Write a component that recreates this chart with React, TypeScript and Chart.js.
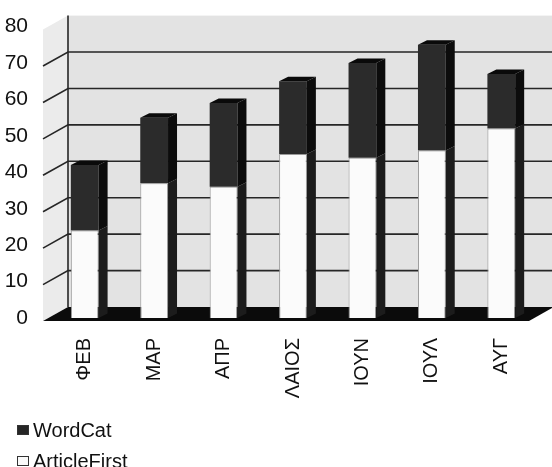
import React, { useEffect, useRef } from 'react';
import { Chart, registerables } from 'chart.js';

Chart.register(...registerables);

const categories = ['ΦΕΒ', 'ΜΑΡ', 'ΑΠΡ', 'ΛΑΙΟΣ', 'ΙΟΥΝ', 'ΙΟΥΛ', 'ΑΥΓ'];
const articleFirst = [24, 37, 36, 45, 44, 46, 52];
const wordCat = [18, 18, 23, 20, 26, 29, 15];
const yMin = 0;
const yMax = 80;
const yStep = 10;
const legendItems = ['WordCat', 'ArticleFirst'];

const FONT = '"Liberation Sans", Arial, Helvetica, sans-serif';
const FRONT = { dx: -7, dy: 3 };
const BACK = { dx: 18, dy: -11 };
const BAR_DEPTH = { dx: 9, dy: -4.5 };

const wall3d = {
  id: 'wall3d',
  beforeDatasetsDraw(chart: any) {
    const { ctx, chartArea: ca, scales } = chart;
    const y = scales.y;
    const yb = (v: number) => y.getPixelForValue(v) + BACK.dy;
    const yf = (v: number) => y.getPixelForValue(v) + FRONT.dy;
    const fx = ca.left + FRONT.dx;
    const fxr = ca.right + FRONT.dx;
    const bx = ca.left + BACK.dx;
    const bxr = ca.right + BACK.dx;
    const top = y.max;
    ctx.save();
    ctx.fillStyle = '#e3e3e3';
    ctx.fillRect(bx, yb(top), bxr - bx, yb(0) - yb(top));
    ctx.fillStyle = '#ebebeb';
    ctx.beginPath();
    ctx.moveTo(fx, yf(top));
    ctx.lineTo(bx, yb(top));
    ctx.lineTo(bx, yb(0));
    ctx.lineTo(fx, yf(0));
    ctx.closePath();
    ctx.fill();
    ctx.strokeStyle = '#262626';
    ctx.lineWidth = 1.6;
    const vals = y.ticks.map((t: any) => t.value).filter((v: number) => v > 0 && v < top);
    for (const v of vals) {
      ctx.beginPath();
      ctx.moveTo(fx, yf(v));
      ctx.lineTo(bx, yb(v));
      ctx.lineTo(bxr, yb(v));
      ctx.stroke();
    }
    ctx.beginPath();
    ctx.moveTo(bx, yb(top));
    ctx.lineTo(bx, yb(0));
    ctx.stroke();
    ctx.fillStyle = '#0b0b0b';
    ctx.beginPath();
    ctx.moveTo(fx, yf(0));
    ctx.lineTo(fxr, yf(0));
    ctx.lineTo(bxr, yb(0));
    ctx.lineTo(bx, yb(0));
    ctx.closePath();
    ctx.fill();
    ctx.restore();
  },
  afterDatasetsDraw(chart: any) {
    const { ctx } = chart;
    const n = chart.data.datasets.length;
    ctx.save();
    for (let d = 0; d < n; d++) {
      const meta = chart.getDatasetMeta(d);
      meta.data.forEach((bar: any) => {
        const { x, y, base, width } = bar.getProps(['x', 'y', 'base', 'width'], true);
        const xl = x - width / 2;
        const xr = x + width / 2;
        ctx.fillStyle = d === 0 ? '#1c1c1c' : '#0c0c0c';
        ctx.beginPath();
        ctx.moveTo(xr, y);
        ctx.lineTo(xr + BAR_DEPTH.dx, y + BAR_DEPTH.dy);
        ctx.lineTo(xr + BAR_DEPTH.dx, base + BAR_DEPTH.dy);
        ctx.lineTo(xr, base);
        ctx.closePath();
        ctx.fill();
        if (d === n - 1) {
          ctx.fillStyle = '#0a0a0a';
          ctx.beginPath();
          ctx.moveTo(xl, y);
          ctx.lineTo(xl + BAR_DEPTH.dx, y + BAR_DEPTH.dy);
          ctx.lineTo(xr + BAR_DEPTH.dx, y + BAR_DEPTH.dy);
          ctx.lineTo(xr, y);
          ctx.closePath();
          ctx.fill();
        }
      });
    }
    ctx.restore();
  },
};

export default function App() {
  const ref = useRef<HTMLCanvasElement | null>(null);

  useEffect(() => {
    if (!ref.current) return;
    const chart = new Chart(ref.current, {
      type: 'bar',
      data: {
        labels: categories,
        datasets: [
          {
            label: legendItems[1],
            data: articleFirst,
            backgroundColor: '#fbfbfb',
            borderColor: '#9a9a9a',
            borderWidth: 1,
            barPercentage: 0.4,
            categoryPercentage: 1,
          },
          {
            label: legendItems[0],
            data: wordCat,
            backgroundColor: '#2b2b2b',
            borderWidth: 0,
            barPercentage: 0.4,
            categoryPercentage: 1,
          },
        ],
      },
      options: {
        responsive: false,
        animation: false,
        devicePixelRatio: 1,
        layout: { padding: { top: 24, right: 16, bottom: 59, left: 0 } },
        plugins: {
          legend: { display: false },
          tooltip: { enabled: false },
        },
        scales: {
          x: {
            stacked: true,
            grid: { display: false },
            border: { display: false },
            ticks: {
              minRotation: 90,
              maxRotation: 90,
              padding: 12,
              color: '#111',
              font: { family: FONT, size: 20 },
            },
            afterFit: (s: any) => {
              s.height = 90;
            },
          },
          y: {
            stacked: true,
            min: yMin,
            max: yMax,
            grid: { display: false },
            border: { display: false },
            ticks: {
              stepSize: yStep,
              padding: 14,
              color: '#111',
              font: { family: FONT, size: 21 },
            },
            afterFit: (s: any) => {
              s.width = 50;
            },
          },
        },
      },
      plugins: [wall3d],
    });
    return () => chart.destroy();
  }, []);

  const rowStyle: React.CSSProperties = {
    position: 'absolute',
    left: 17,
    display: 'flex',
    alignItems: 'center',
    height: 20,
    font: `20px ${FONT}`,
    color: '#111',
    whiteSpace: 'nowrap',
  };
  const box = (bg: string): React.CSSProperties => ({
    display: 'inline-block',
    width: 12,
    height: 10,
    background: bg,
    border: '1px solid #333',
    boxSizing: 'border-box',
    marginRight: 4,
  });

  return (
    <div style={{ position: 'absolute', left: 0, top: 0, width: 552, height: 467, background: '#fff', overflow: 'hidden' }}>
      <canvas ref={ref} width={552} height={467} style={{ display: 'block' }} />
      <div style={{ ...rowStyle, top: 420 }}>
        <span style={box('#262626')} />
        {legendItems[0]}
      </div>
      <div style={{ ...rowStyle, top: 451 }}>
        <span style={box('#fafafa')} />
        {legendItems[1]}
      </div>
    </div>
  );
}
